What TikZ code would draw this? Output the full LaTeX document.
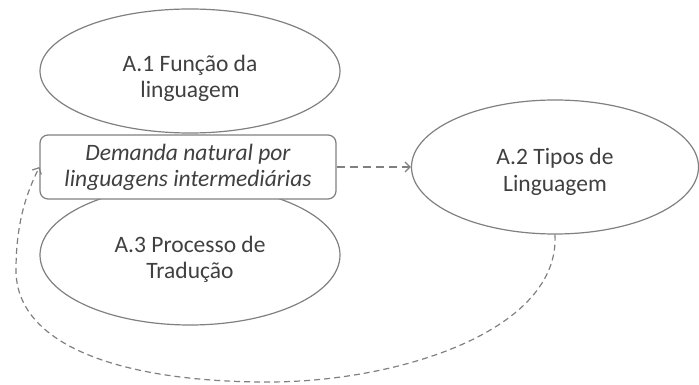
\documentclass[tikz,border=0pt]{standalone}
\usepackage{fontspec}
\usepackage{tikz}
\usetikzlibrary{shapes.geometric}
\usetikzlibrary{arrows.meta}
\setmainfont{Carlito}
\definecolor{TextGrey}{HTML}{404040}
\definecolor{LineGrey}{HTML}{808080}
\newcommand{\topgap}[1]{\rule{0pt}{#1}}

\begin{document}
\begin{tikzpicture}[x = 1pt, y = -1pt]
    \useasboundingbox (0, 0) rectangle (699, 385);

    \coordinate (A1) at (190,  71);
    \coordinate (A2) at (555, 167);
    \coordinate (A3) at (190, 255);
    \coordinate (D)  at (188, 167);

    \begin{scope}[
        every node/.style = {
            draw         = LineGrey,
            line width   = 1.2pt,
            fill         = white,
            text         = TextGrey,
            align        = center,
            inner sep    = 0pt,
            font         = \fontsize{23.5}{26.5}\selectfont,
        }
    ]
        \node (a1) at (A1) [shape = ellipse, minimum width = 300pt, minimum height = 124pt]
            {\topgap{31pt}A.1 Função da\\linguagem};
        \node (a3) at (A3) [shape = ellipse, minimum width = 300pt, minimum height = 140pt]
            {\topgap{25pt}A.3 Processo de\\Tradução};
        \node (a2) at (A2) [shape = ellipse, minimum width = 287pt, minimum height = 134pt]
            {\topgap{26pt}A.2 Tipos de\\Linguagem};
        \node (d)  at (D)  [shape = rectangle, rounded corners = 8pt,
                            minimum width = 296pt, minimum height = 64pt,
                            font = \fontsize{23.5}{26}\selectfont\itshape]
            {Demanda natural por\\linguagens intermediárias};
    \end{scope}

    \begin{scope}[
        line width = 1.2pt,
        draw       = LineGrey,
    ]
        \draw[dash pattern = on 8pt off 5pt, -{Straight Barb[length = 5pt, width = 10pt]}]
            (d.east) -- (a2.west);
        \draw[dash pattern = on 6pt off 4pt, -{Straight Barb[length = 5pt, width = 10pt]}]
            (a2.south) .. controls (560, 330) and (400, 382) .. (268, 382)
                       .. controls (120, 382) and (16, 345) .. (16, 270)
                       .. controls (16, 220) and (28, 190) .. (d.west);
    \end{scope}
\end{tikzpicture}
\end{document}
